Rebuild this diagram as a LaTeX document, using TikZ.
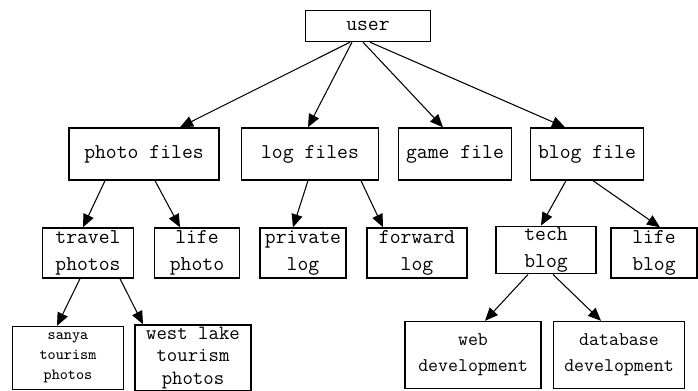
\documentclass[tikz,border=0pt]{standalone}
\usetikzlibrary{arrows.meta}
\begin{document}
\begin{tikzpicture}[x=0.02cm, y=-0.02cm,
    box/.style={draw, line width=0.8pt, inner sep=1pt, align=center,
      font=\ttfamily\fontsize{12}{15}\selectfont},
    link/.style={line width=0.6pt, -{Triangle[length=2.6mm, width=2.2mm]}}]
  \useasboundingbox (0,0) rectangle (698,391);

  % Nodes
  \node[box, minimum width=2.5cm, minimum height=0.62cm] (user) at (368,26) {user};

  \node[box, minimum width=3.0cm, minimum height=1.04cm] (photo) at (144,154) {photo files};
  \node[box, minimum width=2.74cm, minimum height=1.04cm] (log) at (310,154) {log files};
  \node[box, minimum width=2.26cm, minimum height=1.04cm] (game) at (455,154) {game file};
  \node[box, minimum width=2.26cm, minimum height=1.04cm] (blog) at (587,154) {blog file};

  \node[box, minimum width=1.82cm, minimum height=1.0cm] (travel) at (88,253) {travel\\photos};
  \node[box, minimum width=1.7cm, minimum height=1.0cm] (lifephoto) at (197,253) {life\\photo};
  \node[box, minimum width=1.72cm, minimum height=1.0cm] (private) at (303,253) {private\\log};
  \node[box, minimum width=2.0cm, minimum height=1.0cm] (forward) at (417,253) {forward\\log};
  \node[box, minimum width=2.0cm, minimum height=0.9cm] (tech) at (546,250) {tech\\blog};
  \node[box, minimum width=1.72cm, minimum height=1.0cm] (lifeblog) at (654,253) {life\\blog};

  \node[box, minimum width=2.22cm, minimum height=1.26cm,
    font=\ttfamily\fontsize{8.8}{11.4}\selectfont] (sanya) at (68,358) {sanya\\tourism\\photos};
  \node[box, minimum width=2.32cm, minimum height=1.26cm,
    font=\ttfamily\fontsize{11.5}{13}\selectfont] (westlake) at (193,358) {west lake\\tourism\\photos};
  \node[box, minimum width=2.72cm, minimum height=1.34cm,
    font=\ttfamily\fontsize{11}{15}\selectfont] (web) at (473,355) {web\\development};
  \node[box, minimum width=2.62cm, minimum height=1.34cm,
    font=\ttfamily\fontsize{11}{15}\selectfont] (database) at (619,355) {database\\development};

  % Paths
  \draw[link] ([xshift=-0.36cm]user.south) -- ([xshift=0.72cm]photo.north);
  \draw[link] ([xshift=-0.32cm]user.south) -- ([xshift=-0.04cm]log.north);
  \draw[link] ([xshift=-0.1cm]user.south) -- ([xshift=-0.24cm]game.north);
  \draw[link] ([xshift=0.04cm]user.south) -- ([xshift=-0.44cm]blog.north);

  \draw[link] ([xshift=-0.78cm]photo.south) -- ([xshift=-0.1cm]travel.north);
  \draw[link] ([xshift=0.22cm]photo.south) -- ([xshift=-0.34cm]lifephoto.north);
  \draw[link] ([xshift=-0.04cm]log.south) -- ([xshift=-0.2cm]private.north);
  \draw[link] ([xshift=1.02cm]log.south) -- ([xshift=-0.68cm]forward.north);
  \draw[link] ([xshift=-0.42cm]blog.south) -- ([xshift=-0.1cm]tech.north);
  \draw[link] ([xshift=0.12cm]blog.south) -- ([xshift=0.12cm]lifeblog.north);

  \draw[link] ([xshift=-0.16cm]travel.south) -- ([xshift=-0.22cm]sanya.north);
  \draw[link] ([xshift=0.64cm]travel.south) -- ([xshift=-1.0cm]westlake.north);
  \draw[link] ([xshift=-0.36cm]tech.south) -- ([xshift=0.24cm]web.north);
  \draw[link] ([xshift=0.14cm]tech.south) -- ([xshift=-0.36cm]database.north);
\end{tikzpicture}
\end{document}
